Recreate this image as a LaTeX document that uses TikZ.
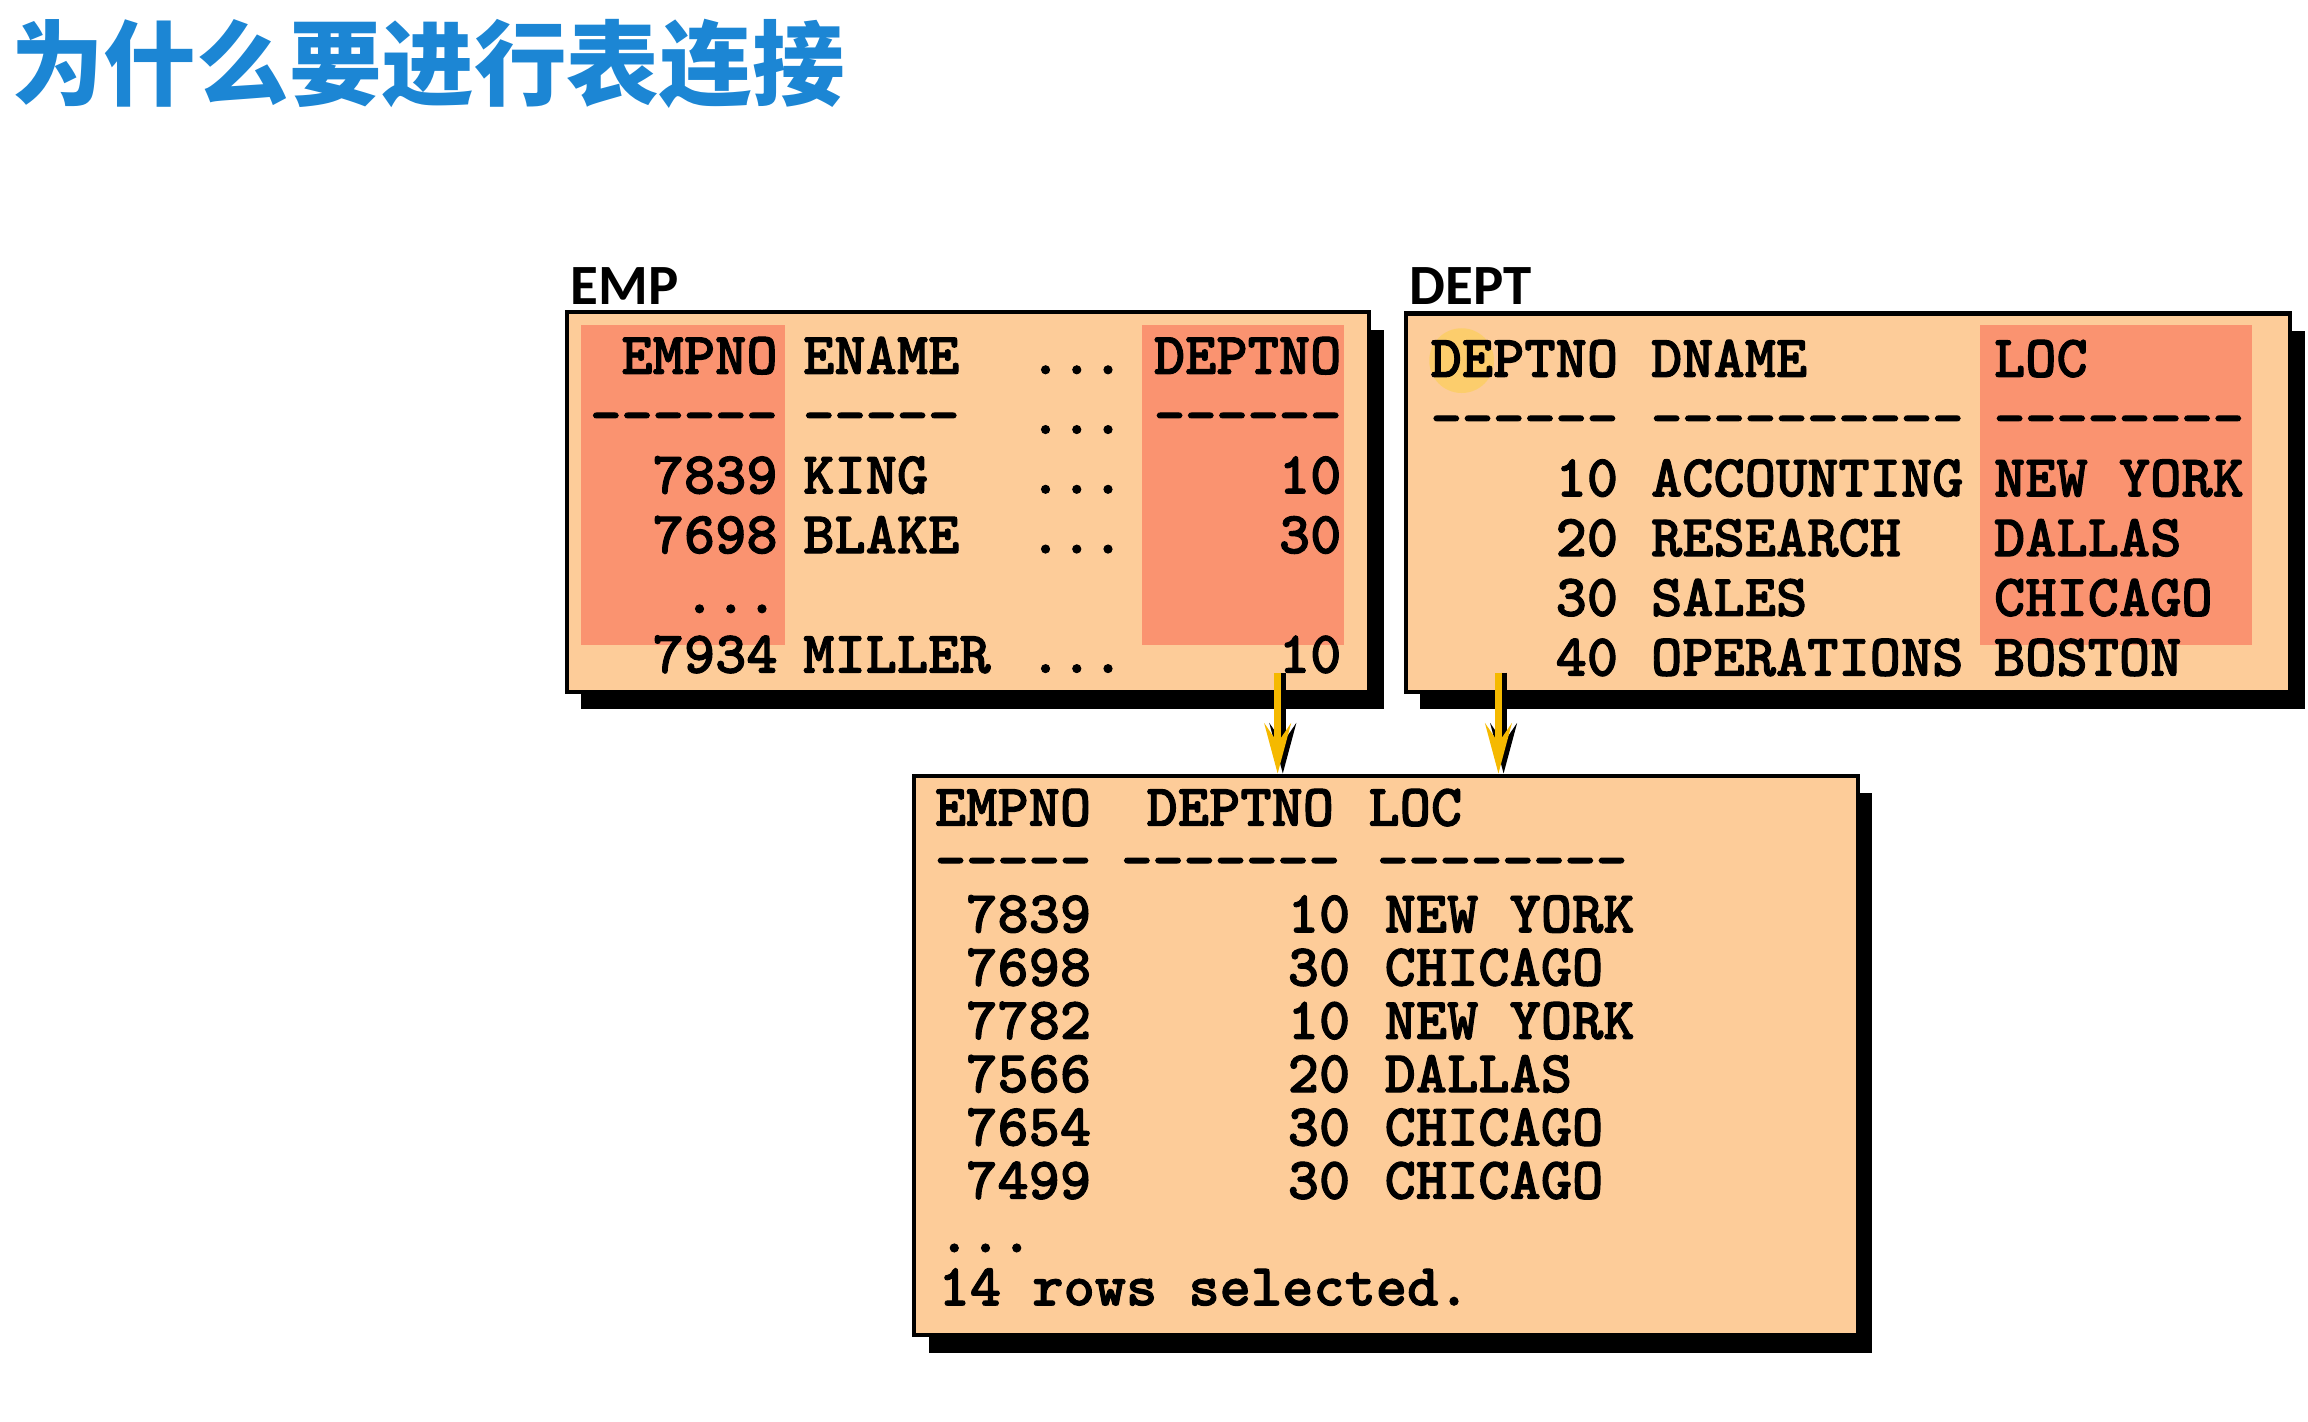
\documentclass[tikz,border=0pt]{standalone}
\usepackage{fontspec}
\newfontfamily\cjkfont{Noto Sans CJK SC}
\newfontfamily\labelfont{Carlito}
\newfontfamily\tabfam{lmmonolt10-bold.otf}[FakeBold=1.6]
\usepackage{tikz}
\usetikzlibrary{positioning,calc,arrows.meta,shadows}
\definecolor{tabpeach}{RGB}{253,204,153}
\definecolor{tabsalmon}{RGB}{250,147,112}
\definecolor{titleblue}{RGB}{28,134,212}
\definecolor{arrowgold}{RGB}{245,185,0}
\newcommand\tabfont{\tabfam\fontsize{11.5}{13}\selectfont\frenchspacing}
\newcommand\tabdots{...}
\newcommand\tabdash[1]{\foreach\k in {1,...,#1}{-\kern0pt}}
\tikzstyle{tablebox} = [draw=black,line width=0.8pt,fill=tabpeach,inner sep=0pt,drop shadow={shadow xshift=1mm,shadow yshift=-1.2mm,fill=black,opacity=1}]
\tikzstyle{cell} = [inner sep=0pt,font=\tabfont]
\tikzstyle{hilite} = [fill=tabsalmon]
\tikzstyle{cursor} = [fill=yellow!70!orange,opacity=0.3]
\tikzstyle{tablabel} = [inner sep=0pt,anchor=base west,font=\labelfont\bfseries\fontsize{11}{13}\selectfont]
\tikzstyle{joinarrow} = [draw=arrowgold,line width=1.4pt,-{Stealth[length=3.4mm,width=1.8mm,inset=1.3mm]}]
\tikzstyle{joinshadow} = [joinarrow,draw=black,transform canvas={xshift=0.35mm}]

\begin{document}
\begin{tikzpicture}[x=0.1mm,y=-0.1mm]
    \useasboundingbox (0,0) rectangle (1568,966);
    \node[anchor=base west,inner sep=0pt,text=titleblue,font=\cjkfont\bfseries\fontsize{17.9}{20}\selectfont] (title) at (7,67) {为什么要进行表连接};

    % the three tables
    \node[tablebox,minimum width=54.5mm,minimum height=25.8mm] (emp) at (657.5,341) {};
    \node[tablebox,minimum width=60.1mm,minimum height=25.7mm] (dept) at (1255.5,341.5) {};
    \node[tablebox,minimum width=64.1mm,minimum height=38mm] (res) at (941.5,717) {};
    \node[tablabel] (emplabel) at (387,207) {EMP};
    \node[tablabel] (deptlabel) at (957,207) {DEPT};

    % join columns
    \fill[hilite] (395,221) rectangle (533,438);
    \fill[hilite] (776,221) rectangle (913,438);
    \fill[hilite] (1345,221) rectangle (1530,438);
    \fill[cursor] (993,245) circle[radius=2.2mm];

    \foreach \a/\b/\c/\d [count=\i from 0] in {EMPNO/ENAME/\tabdots/DEPTNO, {\tabdash6}/{\tabdash5}/\tabdots/{\tabdash6}, 7839/KING/\tabdots/10, 7698/BLAKE/\tabdots/30, \tabdots/{}/{}/{}, 7934/MILLER/\tabdots/10}{
        \node[cell,anchor=base east] (emp-\i-1) at (529,254+40.6*\i) {\a};
        \node[cell,anchor=base west] (emp-\i-2) at (545,254+40.6*\i) {\b};
        \node[cell,anchor=base west] (emp-\i-3) at (699,254+40.6*\i) {\c};
        \node[cell,anchor=base east] (emp-\i-4) at (912,254+40.6*\i) {\d};
    }

    \foreach \a/\b/\c [count=\i from 0] in {DEPTNO/DNAME/LOC, {\tabdash6}/{\tabdash{10}}/{\tabdash8}, 10/ACCOUNTING/NEW YORK, 20/RESEARCH/DALLAS, 30/SALES/CHICAGO, 40/OPERATIONS/BOSTON}{
        \node[cell,anchor=base east] (dept-\i-1) at (1100,256+40.6*\i) {\a};
        \node[cell,anchor=base west] (dept-\i-2) at (1121,256+40.6*\i) {\b};
        \node[cell,anchor=base west] (dept-\i-3) at (1354,256+40.6*\i) {\c};
    }

    \node[cell,anchor=base east] (res-0-1) at (742,561) {EMPNO};
    \node[cell,anchor=base east] (res-0-2) at (907,561) {DEPTNO};
    \node[cell,anchor=base west] (res-0-3) at (929,561) {LOC};
    \node[cell,anchor=base east] (res-1-1) at (742,597) {\tabdash5};
    \node[cell,anchor=base east] (res-1-2) at (911,597) {\tabdash7};
    \node[cell,anchor=base west] (res-1-3) at (935,597) {\tabdash8};
    \foreach \a/\b/\c [count=\i from 2] in {7839/10/NEW YORK, 7698/30/CHICAGO, 7782/10/NEW YORK, 7566/20/DALLAS, 7654/30/CHICAGO, 7499/30/CHICAGO}{
        \node[cell,anchor=base east] (res-\i-1) at (742,561+36.2*\i) {\a};
        \node[cell,anchor=base east] (res-\i-2) at (918,561+36.2*\i) {\b};
        \node[cell,anchor=base west] (res-\i-3) at (940,561+36.2*\i) {\c};
    }
    \node[cell,anchor=base west] (res-more) at (637,561+36.2*8) {\tabdots};
    \node[cell,anchor=base west] (res-count) at (637,561+36.2*9) {14 rows selected.};

    % joins
    \coordinate (j1) at (868,457);
    \coordinate (j2) at (1018,457);
    \foreach \j in {j1,j2}{
        \draw[joinshadow] (\j) -- (\j |- res.north);
        \draw[joinarrow] (\j) -- (\j |- res.north);
    }
\end{tikzpicture}
\end{document}
